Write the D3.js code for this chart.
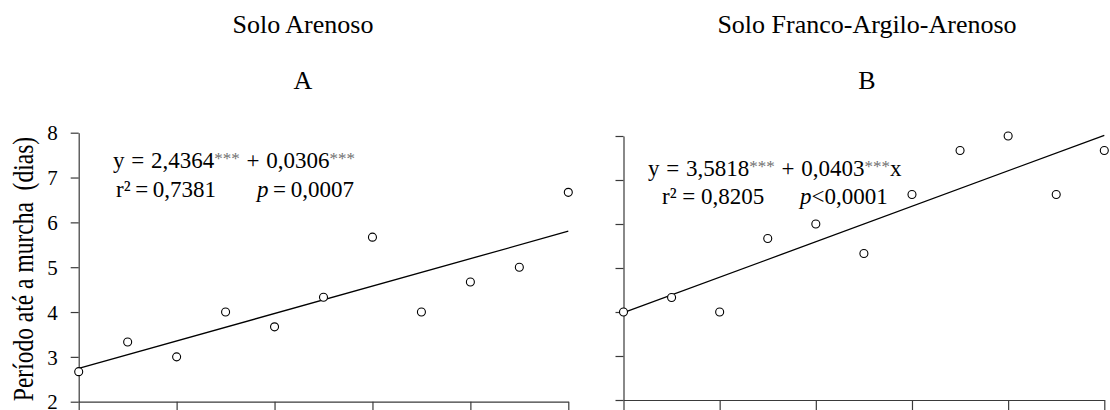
<!DOCTYPE html>
<html>
<head>
<meta charset="utf-8">
<script src="https://cdn.jsdelivr.net/npm/d3@7"></script>
<style>
  body { margin: 0; background: #fff; }
  svg text { font-family: "Liberation Serif", "Times New Roman", serif; fill: #000; }
</style>
</head>
<body>
<svg id="chart" width="1110" height="410"></svg>
<script>
// Days until wilting, per treatment level, for two soil types
const levels = [10, 20, 30, 40, 50, 60, 70, 80, 90, 100, 110];
const xTicks = [10, 30, 50, 70, 90, 110];
const yTicks = [2, 3, 4, 5, 6, 7, 8];
const arenoso = [2.67, 3.33, 3.00, 4.00, 3.67, 4.33, 5.67, 4.00, 4.67, 5.00, 6.67];
const francoArgiloArenoso = [4.00, 4.33, 4.00, 5.67, 6.00, 5.33, 6.67, 7.67, 8.00, 6.67, 7.67];
const panelTitles = ["Solo Arenoso", "Solo Franco-Argilo-Arenoso"];
const panelLetters = ["A", "B"];
const intercepts = [2.4364, 3.5818];
const slopes = [0.0306, 0.0403];
const interceptLabels = ["2,4364", "3,5818"];
const slopeLabels = ["0,0306", "0,0403"];
const r2Labels = ["r\u00b2\u2009=\u20090,7381", "r\u00b2 = 0,8205"];
const pLabels = ["\u2009=\u20090,0007", "<0,0001"];
const yTitle = "Período até a murcha\u00a0 (dias)";

const svg = d3.select("#chart");
const serif = "'Liberation Serif', 'Times New Roman', serif";

const panels = [
  { series: arenoso, x0: 78.7, x1: 568.3, yTop: 132.7, yBot: 401.7, labels: true,
    titleX: 303, eqX: 113, eqY: 168, r2X: 116, pX: 257, line2Y: 197, trailingX: false },
  { series: francoArgiloArenoso, x0: 623.5, x1: 1104.3, yTop: 136, yBot: 400, labels: false,
    titleX: 867, eqX: 648, eqY: 176, r2X: 662, pX: 800, line2Y: 204, trailingX: true }
];

panels.forEach((p, i) => {
  const x = d3.scaleLinear().domain([10, 110]).range([p.x0, p.x1]);
  const y = d3.scaleLinear().domain([2, 8]).range([p.yBot, p.yTop]);
  const g = svg.append("g").attr("font-family", serif);

  // titles
  g.append("text").attr("x", p.titleX).attr("y", 33).attr("text-anchor", "middle")
    .style("font-family", serif).style("font-size", "26px").text(panelTitles[i]);
  g.append("text").attr("x", p.titleX).attr("y", 89).attr("text-anchor", "middle")
    .style("font-family", serif).style("font-size", "26px").text(panelLetters[i]);

  // axes
  const yAxis = d3.axisLeft(y).tickValues(yTicks).tickSize(8).tickSizeOuter(0).tickPadding(13)
    .tickFormat(p.labels ? d3.format("d") : "");
  const ya = g.append("g").attr("transform", `translate(${p.x0},0)`).call(yAxis);
  ya.attr("font-family", serif).attr("font-size", 21);
  ya.selectAll("text").style("font-family", serif).style("font-size", "21px").attr("dy", "0.34em");

  const xAxis = d3.axisBottom(x).tickValues(xTicks).tickSize(10).tickSizeOuter(0).tickFormat("");
  const xa = g.append("g").attr("transform", `translate(0,${p.yBot})`).call(xAxis);

  [ya, xa].forEach(a => {
    a.select(".domain").attr("stroke", "#3a3a3a").attr("stroke-width", 1.2);
    a.selectAll(".tick line").attr("stroke", "#3a3a3a").attr("stroke-width", 1.2);
  });

  // fitted regression line
  const ends = [10, 110];
  g.append("line")
    .attr("x1", x(ends[0])).attr("y1", y(intercepts[i] + slopes[i] * ends[0]))
    .attr("x2", x(ends[1])).attr("y2", y(intercepts[i] + slopes[i] * ends[1]))
    .attr("stroke", "#000").attr("stroke-width", 1.3);

  // observed means
  g.selectAll("circle.pt").data(p.series).join("circle")
    .attr("class", "pt")
    .attr("cx", (d, j) => x(levels[j]))
    .attr("cy", d => y(d))
    .attr("r", 4)
    .attr("fill", "#fff").attr("stroke", "#000").attr("stroke-width", 1.1);

  // regression equation
  const eq = g.append("text").attr("x", p.eqX).attr("y", p.eqY)
    .style("font-family", serif).style("font-size", "23px").style("word-spacing", "1px");
  eq.append("tspan").text("y = " + interceptLabels[i]);
  eq.append("tspan").attr("dy", -4).style("font-size", "17px").style("fill", "#707070").text("***");
  eq.append("tspan").attr("dy", 4).text(" + " + slopeLabels[i]);
  eq.append("tspan").attr("dy", -4).style("font-size", "17px").style("fill", "#707070").text("***");
  if (p.trailingX) eq.append("tspan").attr("dy", 4).text("x");

  g.append("text").attr("x", p.r2X).attr("y", p.line2Y)
    .style("font-family", serif).style("font-size", "23px").text(r2Labels[i]);
  const pt = g.append("text").attr("x", p.pX).attr("y", p.line2Y)
    .style("font-family", serif).style("font-size", "23px");
  pt.append("tspan").style("font-style", "italic").text("p");
  pt.append("tspan").text(pLabels[i]);
});

// shared y-axis title
svg.append("text")
  .attr("transform", "translate(33,269) rotate(-90) scale(1,1.27)")
  .attr("text-anchor", "middle")
  .style("font-family", serif)
  .style("font-size", "23.5px")
  .text(yTitle);
</script>
</body>
</html>
